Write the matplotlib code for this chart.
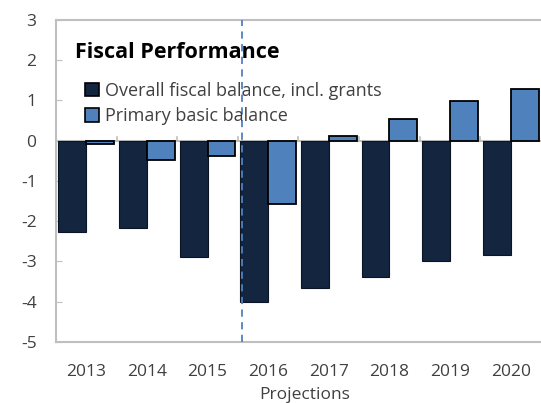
import matplotlib.pyplot as plt
import numpy as np
from matplotlib.patches import Patch

plt.rcParams['font.family'] = ['Open Sans', 'DejaVu Sans']

# Datos del balance fiscal (% del PIB)
anios = ['2013', '2014', '2015', '2016', '2017', '2018', '2019', '2020']
balance_total = [-2.27, -2.18, -2.88, -4.00, -3.66, -3.39, -3.00, -2.85]
balance_primario = [-0.08, -0.47, -0.38, -1.57, 0.12, 0.55, 0.99, 1.28]

azul_oscuro = '#13253f'
azul_claro = '#4f81bd'
gris = '#bfbfbf'
texto = '#404040'

fig = plt.figure(figsize=(5.41, 4.03), dpi=100)
ax = fig.add_axes([0.1035, 0.1514, 0.8965, 0.799])

x = np.arange(len(anios))
ancho = 0.46
ax.bar(x - ancho / 2, balance_total, ancho, color=azul_oscuro,
       edgecolor='#0a1422', linewidth=0.8, zorder=3)
ax.bar(x + ancho / 2, balance_primario, ancho, color=azul_claro,
       edgecolor='black', linewidth=1.3, zorder=3)

ax.set_xlim(-0.5, len(anios) - 0.5)
ax.set_ylim(-5, 3)
ax.set_yticks(range(-5, 4))
ax.set_yticklabels([str(v) for v in range(-5, 4)])
ax.tick_params(axis='y', direction='in', length=4, color=gris,
               labelsize=12.5, labelcolor=texto, pad=14)

# Eje x sin ticks; años debajo del gráfico
ax.set_xticks(x)
ax.set_xticklabels(anios)
ax.tick_params(axis='x', length=0, labelsize=12.5, labelcolor=texto, pad=16)

# Línea de cero con marcas entre categorías
ax.axhline(0, color=gris, linewidth=1.5, zorder=2)
for b in np.arange(0.5, len(anios) - 0.5, 1):
    ax.plot([b, b], [0, 0.1], color=gris, linewidth=1.2, zorder=2)

for lado in ['left', 'bottom', 'top']:
    ax.spines[lado].set_color(gris)
    ax.spines[lado].set_linewidth(1.5)
ax.spines['right'].set_visible(False)

# Separación entre datos históricos y proyecciones
ax.axvline(2.57, color=azul_claro, linestyle=(0, (4, 3)), linewidth=1.3, zorder=4)

ax.text(0.04, 0.90, 'Fiscal Performance', transform=ax.transAxes,
        fontsize=15.5, fontweight='bold', color='black', va='center')

handles = [Patch(facecolor=azul_oscuro, edgecolor='black', linewidth=1.2,
                 label='Overall fiscal balance, incl. grants'),
           Patch(facecolor=azul_claro, edgecolor='black', linewidth=1.2,
                 label='Primary basic balance')]
ax.legend(handles=handles, loc='upper left', bbox_to_anchor=(0.06, 0.808),
          frameon=False, fontsize=13, labelcolor=texto,
          handlelength=0.75, handleheight=0.75, handletextpad=0.35,
          labelspacing=0.42, borderaxespad=0, borderpad=0)

fig.text(305 / 541, 1 - 395 / 403, 'Projections', ha='center', va='center',
         fontsize=12.5, color=texto)

fig.savefig('out.png', dpi=100)
